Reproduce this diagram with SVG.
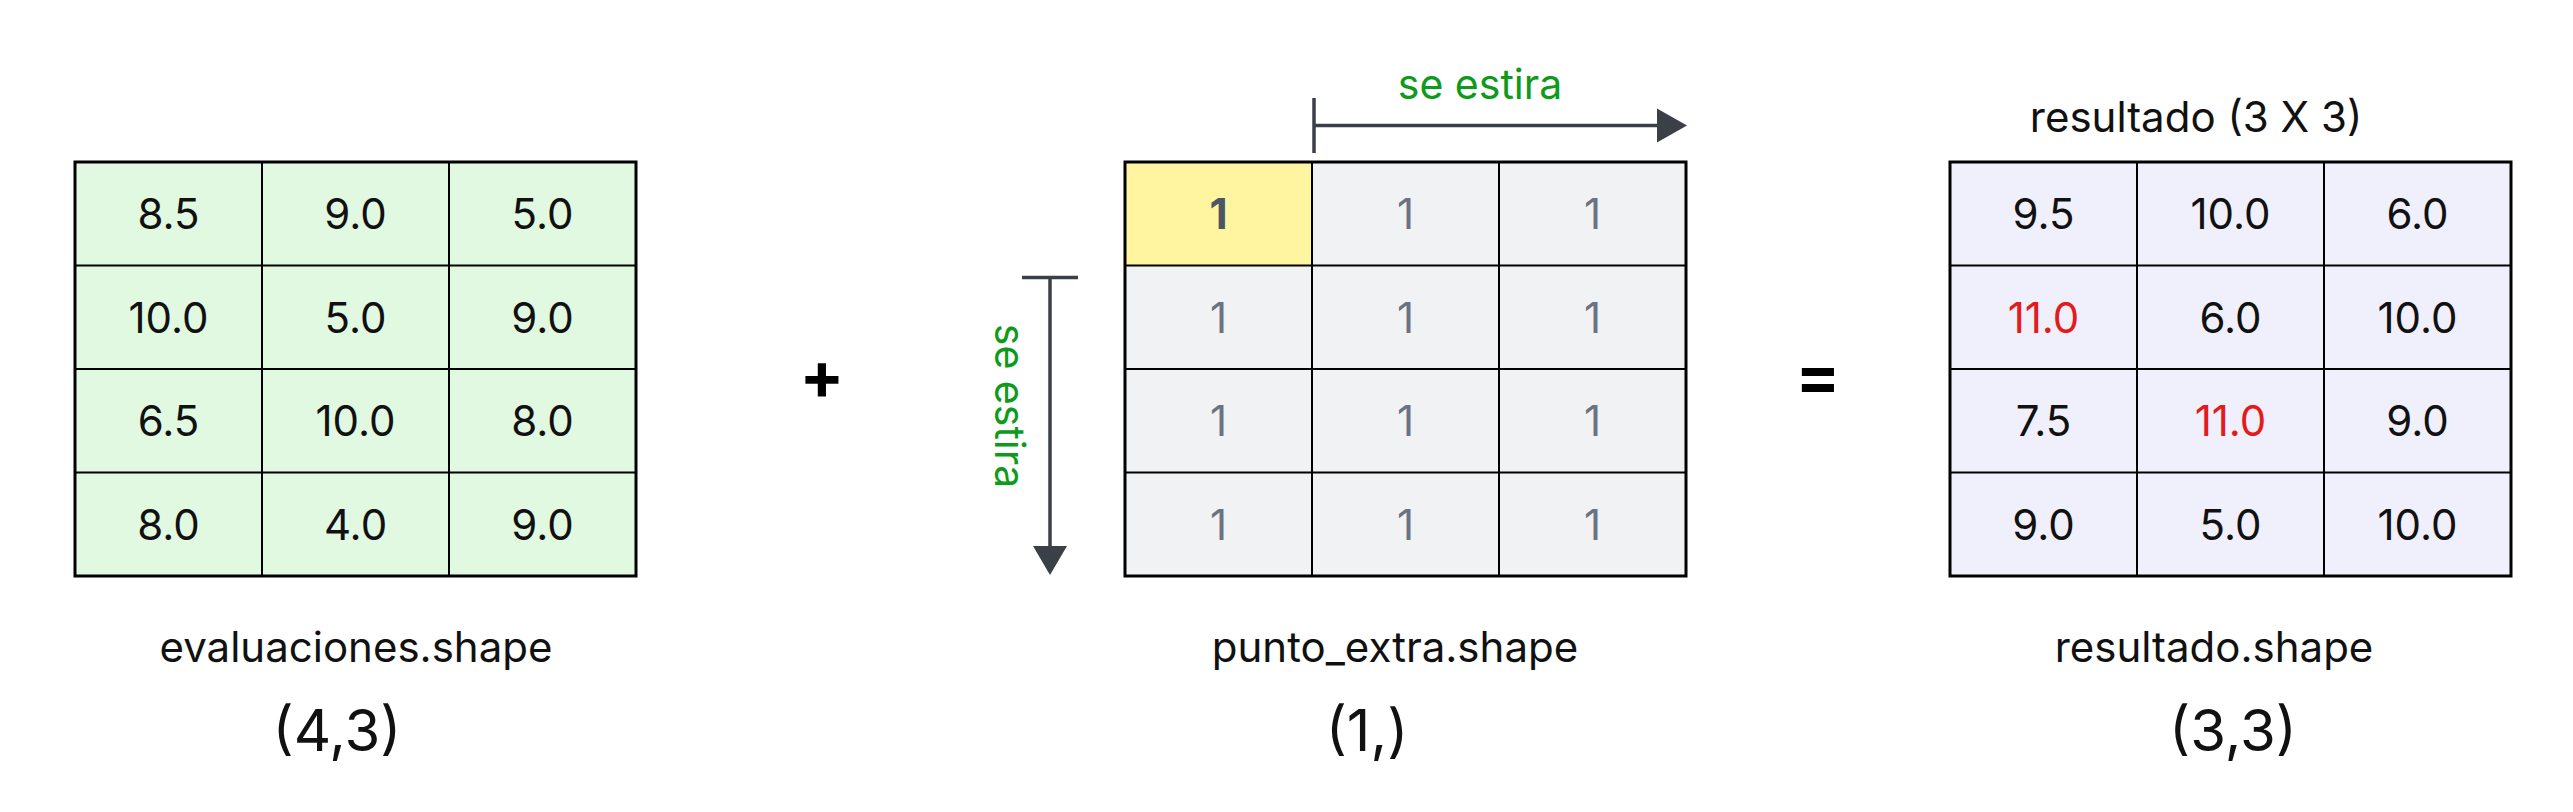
<svg xmlns="http://www.w3.org/2000/svg" width="2573" height="812" viewBox="0 0 2573 812">
<style>
text{font-family:Inter,"Noto Sans","Liberation Sans",sans-serif;}
.num{font-size:42px;fill:#111;text-anchor:middle;}
.one{font-size:42px;fill:#6B7280;text-anchor:middle;}
.oneb{font-size:42px;fill:#4B5563;text-anchor:middle;font-weight:700;}
.red{fill:#E31B1B;}
.lbl{font-size:42px;fill:#111;text-anchor:middle;}
.shp{font-size:58px;fill:#111;text-anchor:middle;}
.grn{font-size:41px;fill:#0E9A1A;text-anchor:middle;}
.op{font-size:66px;font-weight:700;fill:#000;text-anchor:middle;}
.cell{stroke:#000;stroke-width:2;}
.outer{fill:none;stroke:#000;stroke-width:3;}
.g{fill:#E1F8E1;}
.m{fill:#F1F2F4;}
.y{fill:#FFF5A1;}
.r{fill:#F0F0FC;}
.ar{stroke:#3B4048;stroke-width:3.5;fill:none;}
.hd{fill:#3B4048;}
</style>

<g id="evaluaciones">
<rect class="g" x="75" y="162" width="561" height="414"/>
<g class="cell">
<line x1="262" y1="162" x2="262" y2="576"/><line x1="449" y1="162" x2="449" y2="576"/>
<line x1="75" y1="265.5" x2="636" y2="265.5"/><line x1="75" y1="369" x2="636" y2="369"/><line x1="75" y1="472.5" x2="636" y2="472.5"/>
</g>
<rect class="outer" x="75" y="162" width="561" height="414"/>
<text class="num" x="168.5" y="229">8.5</text><text class="num" x="355.5" y="229">9.0</text><text class="num" x="542.5" y="229">5.0</text>
<text class="num" x="168.5" y="332.5">10.0</text><text class="num" x="355.5" y="332.5">5.0</text><text class="num" x="542.5" y="332.5">9.0</text>
<text class="num" x="168.5" y="436">6.5</text><text class="num" x="355.5" y="436">10.0</text><text class="num" x="542.5" y="436">8.0</text>
<text class="num" x="168.5" y="539.5">8.0</text><text class="num" x="355.5" y="539.5">4.0</text><text class="num" x="542.5" y="539.5">9.0</text>
<text class="lbl" x="356" y="662">evaluaciones.shape</text>
<text class="shp" x="337" y="751">(4,3)</text>
</g>

<g id="plus"><text class="op" x="822" y="399">+</text></g>

<g id="punto_extra">
<rect class="m" x="1125" y="162" width="561" height="414"/>
<rect class="y" x="1125" y="162" width="187" height="103.5"/>
<g class="cell">
<line x1="1312" y1="162" x2="1312" y2="576"/><line x1="1499" y1="162" x2="1499" y2="576"/>
<line x1="1125" y1="265.5" x2="1686" y2="265.5"/><line x1="1125" y1="369" x2="1686" y2="369"/><line x1="1125" y1="472.5" x2="1686" y2="472.5"/>
</g>
<rect class="outer" x="1125" y="162" width="561" height="414"/>
<text class="oneb" x="1218.5" y="229">1</text><text class="one" x="1405.5" y="229">1</text><text class="one" x="1592.5" y="229">1</text>
<text class="one" x="1218.5" y="332.5">1</text><text class="one" x="1405.5" y="332.5">1</text><text class="one" x="1592.5" y="332.5">1</text>
<text class="one" x="1218.5" y="436">1</text><text class="one" x="1405.5" y="436">1</text><text class="one" x="1592.5" y="436">1</text>
<text class="one" x="1218.5" y="539.5">1</text><text class="one" x="1405.5" y="539.5">1</text><text class="one" x="1592.5" y="539.5">1</text>
<text class="lbl" x="1395" y="662">punto_extra.shape</text>
<text class="shp" x="1367" y="751">(1,)</text>
</g>

<g id="connectors">
<line class="ar" x1="1314" y1="98" x2="1314" y2="153"/>
<line class="ar" x1="1314" y1="125.5" x2="1660" y2="125.5"/>
<polygon class="hd" points="1657,108.5 1687,125.5 1657,142.5"/>
<line class="ar" x1="1022" y1="277.5" x2="1078" y2="277.5"/>
<line class="ar" x1="1050" y1="277.5" x2="1050" y2="549"/>
<polygon class="hd" points="1033,546 1067,546 1050,575"/>
<text class="grn" x="1480" y="99">se estira</text>
<text class="grn" x="995" y="406" transform="rotate(90 995 406)">se estira</text>
</g>

<g id="equals"><text class="op" x="1818" y="399">=</text></g>

<g id="resultado">
<text class="lbl" x="2196" y="132">resultado (3 X 3)</text>
<rect class="r" x="1950" y="162" width="561" height="414"/>
<g class="cell">
<line x1="2137" y1="162" x2="2137" y2="576"/><line x1="2324" y1="162" x2="2324" y2="576"/>
<line x1="1950" y1="265.5" x2="2511" y2="265.5"/><line x1="1950" y1="369" x2="2511" y2="369"/><line x1="1950" y1="472.5" x2="2511" y2="472.5"/>
</g>
<rect class="outer" x="1950" y="162" width="561" height="414"/>
<text class="num" x="2043.5" y="229">9.5</text><text class="num" x="2230.5" y="229">10.0</text><text class="num" x="2417.5" y="229">6.0</text>
<text class="num red" x="2043.5" y="332.5">11.0</text><text class="num" x="2230.5" y="332.5">6.0</text><text class="num" x="2417.5" y="332.5">10.0</text>
<text class="num" x="2043.5" y="436">7.5</text><text class="num red" x="2230.5" y="436">11.0</text><text class="num" x="2417.5" y="436">9.0</text>
<text class="num" x="2043.5" y="539.5">9.0</text><text class="num" x="2230.5" y="539.5">5.0</text><text class="num" x="2417.5" y="539.5">10.0</text>
<text class="lbl" x="2214" y="662">resultado.shape</text>
<text class="shp" x="2233" y="751">(3,3)</text>
</g>
</svg>
